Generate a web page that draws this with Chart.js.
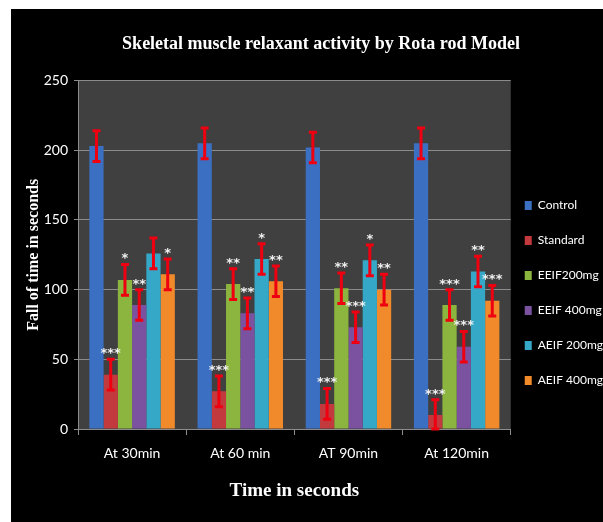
<!DOCTYPE html>
<html>
<head>
<meta charset="utf-8">
<script src="https://cdn.jsdelivr.net/npm/chart.js@4.4.1/dist/chart.umd.min.js"></script>
<style>
  html, body { margin: 0; padding: 0; background: #fff; }
  #wrap { width: 603px; height: 522px; }
</style>
</head>
<body>
<div id="wrap"><canvas id="chart" width="603" height="522"></canvas></div>
<script>
const categories = ['At 30min', 'At 60 min', 'AT 90min', 'At 120min'];
const seriesNames = ['Control', 'Standard', 'EEIF200mg', 'EEIF 400mg', 'AEIF 200mg', 'AEIF 400mg'];
const control = [203, 205, 202, 205];
const standard = [39, 27, 18, 10];
const eeif200 = [107, 104, 101, 89];
const eeif400 = [89, 83, 73, 59];
const aeif200 = [126, 122, 121, 113];
const aeif400 = [111, 106, 100, 92];
const errControl = [11, 11, 11, 11];
const errStandard = [11, 11, 11, 11];
const errEeif200 = [11, 11, 11, 11];
const errEeif400 = [11, 11, 11, 11];
const errAeif200 = [11, 11, 11, 11];
const errAeif400 = [11, 11, 11, 11];
const stars = [
  ['', '', '', ''],
  ['***', '***', '***', '***'],
  ['*', '**', '**', '***'],
  ['**', '**', '***', '***'],
  ['', '*', '*', '**'],
  ['*', '**', '**', '***']
];
const yTicks = [0, 50, 100, 150, 200, 250];

const colors = ['#3a6fc2', '#c23a3d', '#8cb53f', '#7a529f', '#35a8c8', '#f18a2b'];
const values = [control, standard, eeif200, eeif400, aeif200, aeif400];
const errors = [errControl, errStandard, errEeif200, errEeif400, errAeif200, errAeif400];

const narrow = 'Lato, Roboto, sans-serif';
const serif = '"Liberation Serif", "DejaVu Serif", serif';

// background: white frame, black panel, grey plot area
const bgPlugin = {
  id: 'bg',
  afterLayout(chart) {
    // legend sits lower and a bit further left than chart.js puts it
    const lg = chart.legend;
    lg.top += 32; lg.bottom += 32;
    lg.left -= 9; lg.right -= 9;
  },
  beforeDraw(chart) {
    const c = chart.ctx, a = chart.chartArea;
    c.save();
    c.fillStyle = '#ffffff'; c.fillRect(0, 0, chart.width, chart.height);
    c.fillStyle = '#000000'; c.fillRect(11, 9, chart.width - 11, chart.height - 9);
    c.fillStyle = '#404040'; c.fillRect(a.left, a.top, a.right - a.left, a.bottom - a.top);
    c.restore();
  }
};

// red error bars + significance stars
const errPlugin = {
  id: 'errbars',
  afterDatasetsDraw(chart) {
    const c = chart.ctx, y = chart.scales.y;
    c.save();
    chart.data.datasets.forEach((ds, di) => {
      const meta = chart.getDatasetMeta(di);
      meta.data.forEach((bar, i) => {
        const v = ds.data[i], e = errors[di][i];
        const yt = y.getPixelForValue(v + e), yb = y.getPixelForValue(Math.max(0, v - e));
        c.strokeStyle = '#ee0010'; c.lineWidth = 3;
        c.beginPath();
        c.moveTo(bar.x, yt); c.lineTo(bar.x, yb);
        c.moveTo(bar.x - 4, yt); c.lineTo(bar.x + 4, yt);
        c.moveTo(bar.x - 4, yb); c.lineTo(bar.x + 4, yb);
        c.stroke();
        const s = stars[di][i];
        if (s) {
          c.fillStyle = '#f0f0f0';
          c.font = 'bold 13px "DejaVu Sans", sans-serif';
          c.textAlign = 'center'; c.textBaseline = 'bottom';
          c.fillText(s, bar.x, yt + 1);
        }
      });
    });
    c.restore();
  }
};

new Chart(document.getElementById('chart'), {
  type: 'bar',
  data: {
    labels: categories,
    datasets: seriesNames.map((n, i) => ({
      label: n, data: values[i], backgroundColor: colors[i],
      barPercentage: 1.0, categoryPercentage: 0.79
    }))
  },
  options: {
    responsive: false,
    animation: false,
    layout: { padding: { top: 20, left: 20, right: -19, bottom: 20 } },
    plugins: {
      title: {
        display: true,
        text: 'Skeletal muscle relaxant activity by Rota rod Model',
        color: '#ffffff',
        font: { family: serif, size: 18, weight: 'bold' },
        padding: { top: 14, bottom: 25 }
      },
      legend: {
        position: 'right',
        labels: {
          color: '#ffffff', boxWidth: 7, boxHeight: 9, padding: 23,
          font: { family: narrow, size: 12 }
        }
      },
      tooltip: { enabled: false }
    },
    scales: {
      x: {
        grid: { display: true, drawOnChartArea: false, drawTicks: true, tickLength: 6, color: '#8c8c8c', offset: true },
        border: { color: '#8c8c8c' },
        ticks: { color: '#ffffff', font: { family: narrow, size: 14 }, padding: 10 },
        title: { display: true, text: 'Time in seconds', color: '#ffffff', font: { family: serif, size: 19, weight: 'bold' }, padding: 0 },
        afterFit(s) { s.height = 73; }
      },
      y: {
        min: 0, max: 250,
        afterBuildTicks(s) { s.ticks = yTicks.map(v => ({ value: v })); },
        grid: { color: '#8c8c8c', tickLength: 4 },
        border: { color: '#8c8c8c' },
        ticks: { color: '#ffffff', font: { family: narrow, size: 14 }, padding: 6 },
        title: { display: true, text: 'Fall of time in seconds', color: '#ffffff', font: { family: serif, size: 16, weight: 'bold' }, padding: { top: 4, bottom: 0 } },
        afterFit(s) { s.width = 58; }
      }
    }
  },
  plugins: [bgPlugin, errPlugin]
});
</script>
</body>
</html>
